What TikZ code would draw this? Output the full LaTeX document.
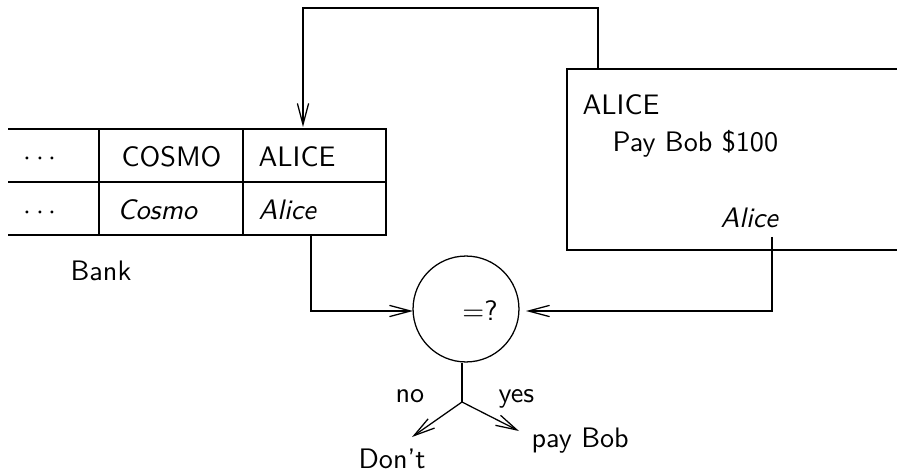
\documentclass[tikz,border=0pt]{standalone}
\usetikzlibrary{arrows.meta}
\begin{document}
\begin{tikzpicture}[x=0.355pt,y=-0.355pt, font=\sffamily, line width=0.45pt,
  barb/.style={-{Straight Barb[length=7.5pt,width=4pt]}},
  txt/.style={inner sep=0pt, anchor=base west}]
\useasboundingbox (0,0) rectangle (897,472);
\clip (0,0) rectangle (897,472);
% bank table
\draw (8,129) -- (386,129) -- (386,235) -- (8,235);
\draw (8,182) -- (386,182);
\draw (99,129) -- (99,235);
\draw (243,129) -- (243,235);
\node[txt] (d1) at (23,166) {$\cdots$};
\node[txt] (c1) at (121,167) {COSMO};
\node[txt] (a1) at (258,167) {ALICE};
\node[txt] (d2) at (23,220) {$\cdots$};
\node[txt] (c2) at (117,220) {\itshape Cosmo};
\node[txt] (a2) at (258,220) {\itshape Alice};
\node[txt] (bank) at (70,280) {Bank};
\coordinate (tabtop) at (303,127);
\coordinate (tabout) at (311,235);
% cheque
\draw (920,69) -- (567,69) -- (567,250) -- (920,250);
\node[txt] (ch1) at (582,115) {ALICE};
\node[txt] (ch2) at (612,152) {Pay Bob \$100};
\node[txt] (ch3) at (720,228) {\itshape Alice};
\coordinate (chtop) at (598,69);
\coordinate (chout) at (772,237);
% comparator
\node[circle, draw, minimum size=37.6pt, inner sep=0pt] (eq) at (466,309) {};
\node[inner sep=0pt] (eqt) at (480,311) {$=$?};
\coordinate (split) at (462,402);
\coordinate (no) at (412,437);
\coordinate (yes) at (519,431);
% connectors
\draw[barb] (chtop) -- (598,8) -- (303,8) -- (tabtop);
\draw[barb] (tabout) -- (311,311) -- (413,311);
\draw[barb] (chout) -- (772,311) -- (526,311);
\draw (eq.south -| split) -- (split);
\draw[barb] (split) -- (no);
\draw[barb] (split) -- (yes);
% labels
\node[txt] (lno) at (395,402) {no};
\node[txt] (lyes) at (498,402) {yes};
\node[txt] (ldont) at (358,468) {Don't};
\node[txt] (lpay) at (531,447) {pay Bob};
\end{tikzpicture}
\end{document}
